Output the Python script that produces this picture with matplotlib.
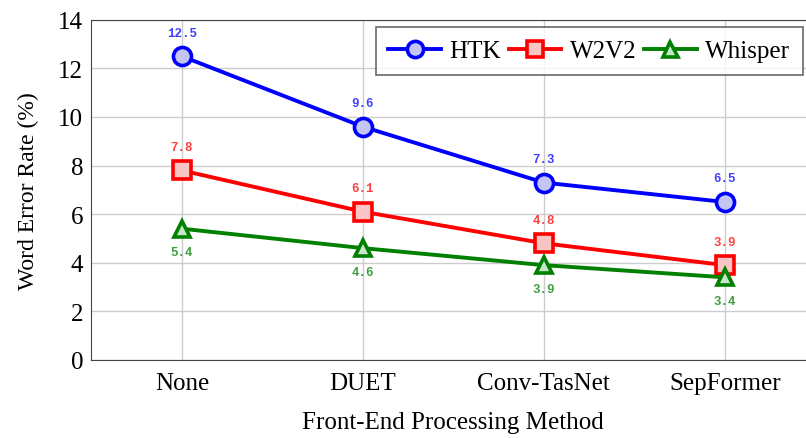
import numpy as np
import matplotlib.pyplot as plt

methods = ['None', 'DUET', 'Conv-TasNet', 'SepFormer']
htk = [12.5, 9.6, 7.3, 6.5]
w2v2 = [7.8, 6.1, 4.8, 3.9]
whisper = [5.4, 4.6, 3.9, 3.4]

plt.rcParams['font.family'] = ['Liberation Serif', 'DejaVu Serif']

fig = plt.figure(figsize=(8.06, 4.39), dpi=100)
ax = fig.add_axes([0.1135, 0.178, 0.898, 0.7745])

x = np.arange(len(methods))
series = [
    ('HTK', htk, 'o', '#0000ff', '#c5c5f5', 1),
    ('W2V2', w2v2, 's', '#ff0000', '#f8c4c4', 1),
    ('Whisper', whisper, '^', '#008000', '#c8e6c8', -1),
]
for name, vals, mk, col, fill, side in series:
    ax.plot(x, vals, marker=mk, color=col, mfc=fill, mec=col, mew=2.6,
            ms=13 if mk != '^' else 12, lw=2.8, label=name, zorder=3)
    for xi, v in zip(x, vals):
        ax.annotate(f'{v}', (xi, v), xytext=(0, 17 * side), textcoords='offset points',
                    ha='center', va='center', fontsize=9, fontweight='bold',
                    family='Liberation Mono', color=col, alpha=0.75)

ax.set_xlim(-0.5, 3.5)
ax.set_ylim(0, 14)
ax.set_yticks(range(0, 15, 2))
ax.set_xticks(x)
ax.set_xticklabels(methods)
ax.tick_params(length=0, labelsize=18, pad=6)
ax.tick_params(axis='x', pad=9)
ax.grid(True, color='#cccccc', lw=1)
ax.set_axisbelow(True)
for s in ax.spines.values():
    s.set_color('#444444')
ax.set_xlabel('Front-End Processing Method', fontsize=18, labelpad=12)
ax.set_ylabel('Word Error Rate (%)', fontsize=17, labelpad=14)

leg = ax.legend(loc='upper right', bbox_to_anchor=(0.983, 0.978), ncol=3, fontsize=18,
                frameon=True, fancybox=False, edgecolor='#444444',
                handlelength=2.1, columnspacing=0.3, handletextpad=0.35,
                borderpad=0.5, borderaxespad=0, markerscale=0.9)
leg.get_frame().set_linewidth(1.2)

fig.savefig('out.png', dpi=100)
